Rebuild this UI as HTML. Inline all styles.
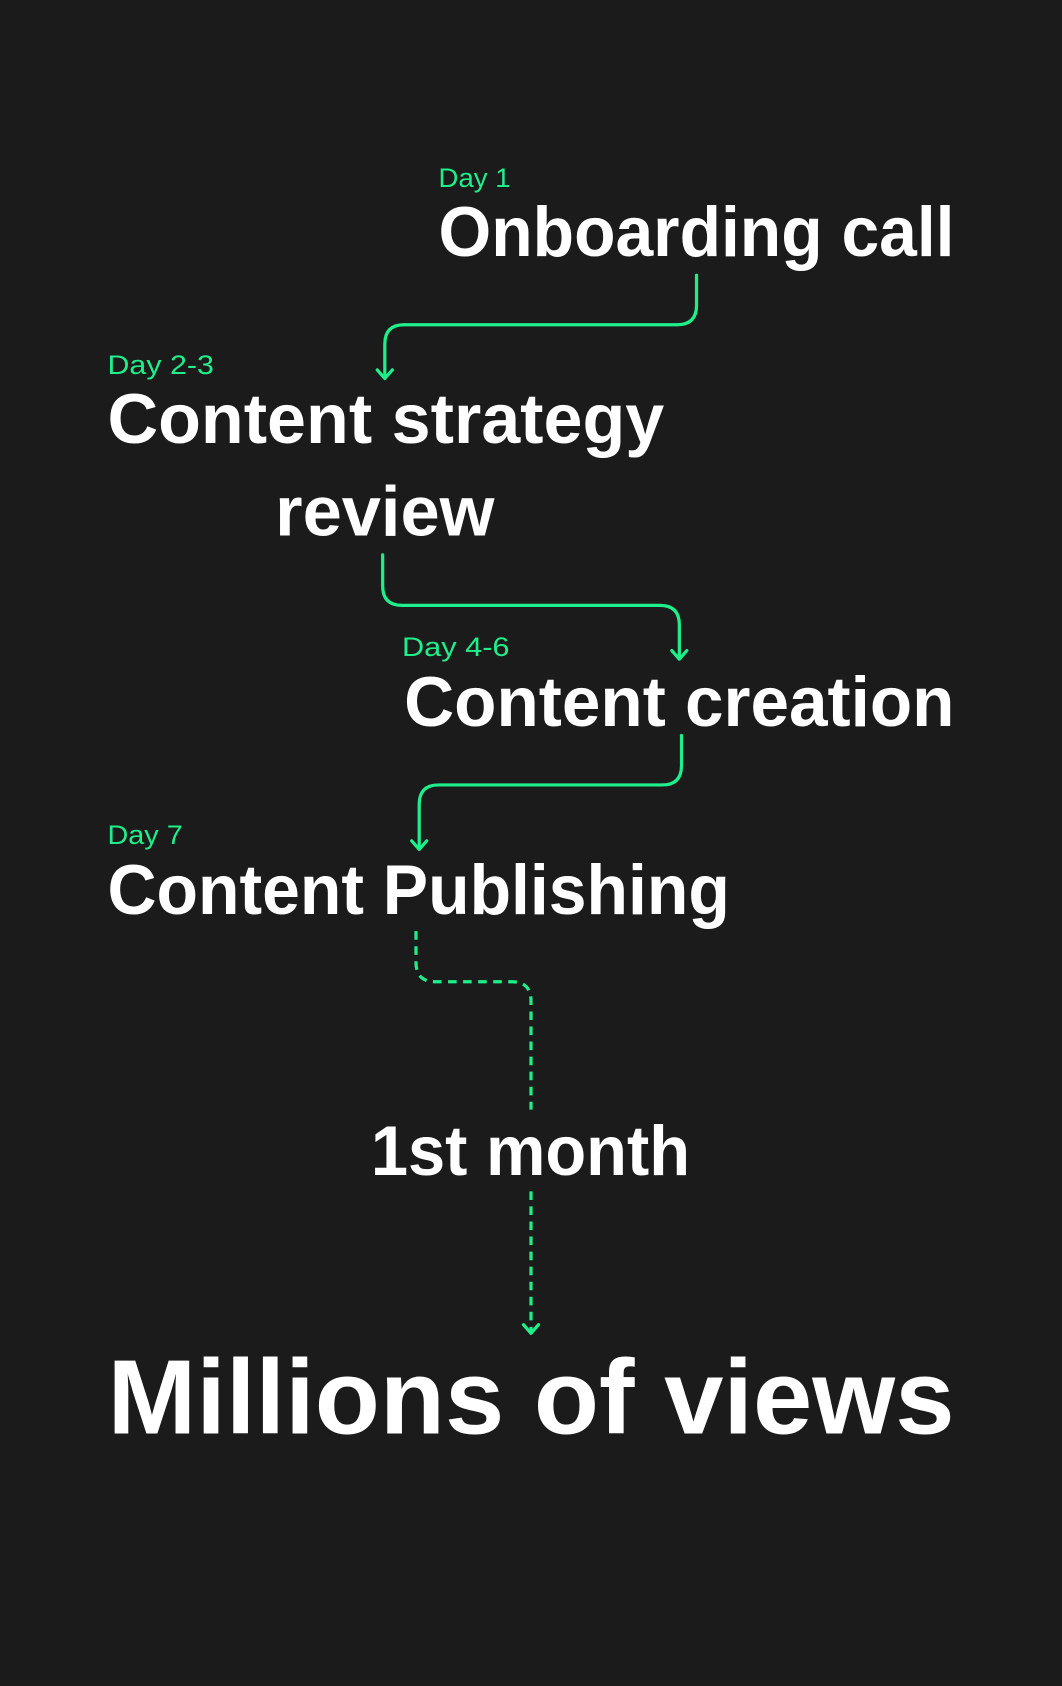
<!DOCTYPE html>
<html><head><meta charset="utf-8"><style>
html,body{margin:0;padding:0;background:#1b1b1b;}
svg{display:block;}
text{font-family:"Liberation Sans",sans-serif;}
.d{fill:#1fef8a;font-size:25px;}
.t{fill:#fff;font-weight:bold;font-size:66px;}
.p{fill:none;stroke:#1fef8a;stroke-width:3;stroke-linecap:round;stroke-linejoin:round;}
.ds{stroke-dasharray:8 6;stroke-linecap:butt;}
</style></head><body>
<svg width="1062" height="1686" viewBox="0 0 988 1568" preserveAspectRatio="none">
<rect width="988" height="1568" fill="#1b1b1b"/>
<text class="d" x="408" y="174" textLength="67" lengthAdjust="spacingAndGlyphs">Day 1</text>
<text class="t" x="408" y="238" textLength="480" lengthAdjust="spacingAndGlyphs">Onboarding call</text>
<path class="p" d="M648 256 V284 Q648 302 630 302 H376 Q358 302 358 320 V351"/>
<path class="p" d="M351 344 L358 352 L365 344"/>
<text class="d" x="100" y="348" textLength="99" lengthAdjust="spacingAndGlyphs">Day 2-3</text>
<text class="t" x="100" y="412" textLength="518" lengthAdjust="spacingAndGlyphs">Content strategy</text>
<text class="t" x="256" y="498" textLength="204" lengthAdjust="spacingAndGlyphs">review</text>
<path class="p" d="M356 516 V545 Q356 563 374 563 H614 Q632 563 632 581 V612"/>
<path class="p" d="M625 605 L632 613 L639 605"/>
<text class="d" x="374" y="610" textLength="100" lengthAdjust="spacingAndGlyphs">Day 4-6</text>
<text class="t" x="376" y="675" textLength="512" lengthAdjust="spacingAndGlyphs">Content creation</text>
<path class="p" d="M634 684 V712 Q634 730 616 730 H408 Q390 730 390 748 V789"/>
<path class="p" d="M383 782 L390 790 L397 782"/>
<text class="d" x="100" y="785" textLength="70" lengthAdjust="spacingAndGlyphs">Day 7</text>
<text class="t" x="100" y="850" textLength="579" lengthAdjust="spacingAndGlyphs">Content Publishing</text>
<path class="p ds" d="M387 866 V895 Q387 913 405 913 H476 Q494 913 494 931 V1032"/>
<text class="t" x="345" y="1093" textLength="297" lengthAdjust="spacingAndGlyphs">1st month</text>
<path class="p ds" d="M494 1108 V1238"/>
<path class="p" d="M487 1232 L494 1240 L501 1232"/>
<text class="t" x="100" y="1333" style="font-size:98px" textLength="788" lengthAdjust="spacingAndGlyphs">Millions of views</text>
</svg>
</body></html>
